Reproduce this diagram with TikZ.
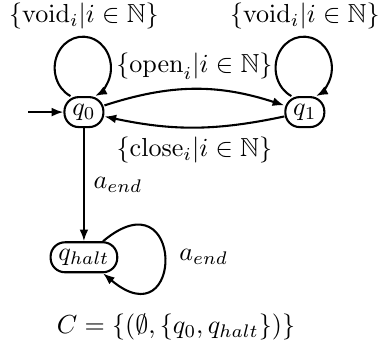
\documentclass[tikz,border=0pt]{standalone}
\usepackage{amsmath}
\usepackage{amsfonts}
\usepackage{tikz}
\usetikzlibrary{arrows.meta, positioning}

\begin{document}
\begin{tikzpicture}[node distance=2cm, >={Latex[length=4.5pt,width=3.4pt]},
  state/.style={draw, thick, rounded corners=5.5pt, minimum height=11.5pt, minimum width=14.5pt, inner xsep=3pt, inner ysep=1.5pt}]
\useasboundingbox (-32.2pt,-89pt) rectangle (113.2pt,43pt);
\node[state] (q0) at (0,0) {$q_0$};
\node[state, right=69pt of q0] (q1) {$q_1$};
\node[state, below=43.4pt of q0] (qhalt) {$q_{halt}$};
\coordinate[left=13.4pt of q0] (start);
\node[above=22pt of q0] (void0) {$\{\mathrm{void}_i|i\in\mathbb{N}\}$};
\node[above=22pt of q1] (void1) {$\{\mathrm{void}_i|i\in\mathbb{N}\}$};
\node[below=12pt of qhalt, xshift=35.3pt] (cset) {$C=\{(\emptyset,\{q_0,q_{halt}\})\}$};

\draw[->, thick] (start) -- (q0);
\draw[->, thick] (q0.130) arc[start angle=244, end angle=-64, x radius=10.8pt, y radius=12pt];
\draw[->, thick] (q1.130) arc[start angle=244, end angle=-64, x radius=10.8pt, y radius=12pt];
\draw[->, thick] (q0) to[bend left=18] node[above=0pt] {$\{\mathrm{open}_i|i\in\mathbb{N}\}$} (q1);
\draw[->, thick] (q1) to[bend left=12] node[below=0pt] {$\{\mathrm{close}_i|i\in\mathbb{N}\}$} (q0);
\draw[->, thick] (q0) -- node[right] {$a_{end}$} (qhalt);
\draw[->, thick] (qhalt) to[out=40, in=-40, distance=41pt] node[right=2pt] {$a_{end}$} (qhalt);
\end{tikzpicture}
\end{document}
